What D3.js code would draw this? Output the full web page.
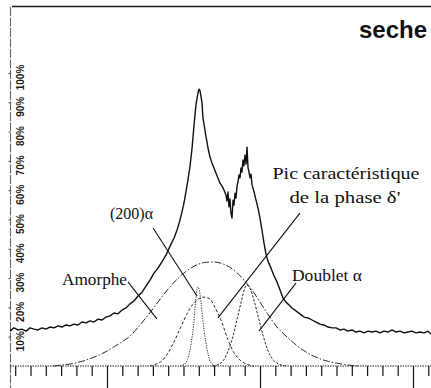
<!DOCTYPE html>
<html>
<head>
<meta charset="utf-8">
<script src="https://cdn.jsdelivr.net/npm/d3@7"></script>
<style>
  html, body { margin: 0; padding: 0; background: #fff; }
  svg { display: block; }
</style>
</head>
<body>
<svg id="chart" width="431" height="388"></svg>
<script>
// Diffractogram (2θ, relative intensity in %) with its fitted components
const twoTheta = [3.66,3.92,4.18,4.44,4.71,4.97,5.23,5.49,5.75,6.01,6.27,6.54,6.80,7.06,7.32,7.58,7.84,8.10,8.37,8.63,8.89,9.15,9.41,9.67,9.93,10.20,10.46,10.72,10.98,11.24,11.50,
  11.76,12.03,12.29,12.55,12.81,13.07,13.33,13.59,13.86,14.12,14.38,
  14.58,14.77,14.90,15.03,15.16,15.29,15.43,15.56,15.69,15.82,15.95,
  16.01,16.08,16.14,16.21,16.27,16.34,16.41,16.47,16.54,16.60,
  16.73,16.86,16.99,17.12,17.25,17.39,17.52,17.65,17.78,
  17.84,17.91,17.97,18.04,18.10,18.17,18.24,18.30,18.37,18.43,18.50,18.56,18.63,18.69,18.76,18.82,18.89,18.95,19.02,19.09,19.15,19.22,19.28,19.35,19.41,19.48,
  19.61,19.74,19.87,20.00,20.13,20.26,20.39,20.52,
  20.72,20.92,21.11,21.31,21.50,21.70,21.90,22.09,
  22.35,22.61,22.88,23.14,23.40,23.66,23.92,24.18,24.44,24.71,24.97,25.23,25.49,25.75,26.01,26.27,26.54,26.80,27.06,27.32,27.58,27.84,28.10,28.37,28.63,28.89,29.15,29.41,29.67,29.93,30.20,30.46,30.72,30.98,
  31.18];
const intensity = [11.9,13.0,12.3,12.6,11.9,13.0,12.6,12.3,13.0,12.6,13.3,13.0,13.7,13.3,14.0,13.7,14.3,14.0,15.0,14.7,15.4,15.0,16.0,15.7,16.7,17.1,18.1,17.8,19.1,19.8,21.2,
  22.2,23.9,25.2,27.3,29.3,31.7,33.4,35.5,37.9,40.9,43.7,
  46.4,49.8,52.6,55.6,59.4,63.5,68.3,74.4,82.3,89.4,93.2,
  94.5,93.9,92.1,89.8,84.6,82.6,80.2,78.2,76.4,74.4,
  71.3,69.3,67.6,65.9,64.2,62.4,61.4,60.0,58.3,
  56.3,59.4,54.3,57.0,52.2,50.5,56.6,54.9,59.0,57.3,61.4,62.8,65.2,64.2,67.6,66.2,70.3,68.3,72.0,68.9,74.7,67.6,66.2,64.2,65.5,61.8,
  59.4,56.6,53.9,50.5,46.4,42.0,38.2,35.8,
  33.4,30.7,28.7,25.9,23.2,21.8,20.8,19.8,
  18.8,17.8,16.7,16.4,15.7,15.0,14.3,14.0,13.3,13.0,13.0,12.3,12.6,11.9,12.3,11.6,11.9,11.3,11.9,11.6,11.9,11.3,11.9,11.6,12.3,11.6,11.9,11.3,11.6,11.9,11.3,11.6,11.3,11.9,
  10.9];

// Fitted components
const amorpheX = [6.5,7.0,7.5,8.0,8.5,9.0,9.5,10.0,10.5,11.0,11.5,12.0,12.5,13.0,13.5,14.0,14.5,15.0,15.5,16.0,16.5,17.0,17.5,18.0,18.5,19.0,19.5,20.0,20.5,21.0,21.5,22.0,22.5,23.0,23.5,24.0,24.5,25.0,25.5,26.0,26.5];
const amorpheY = [0,0.3,0.6,1.1,1.8,2.7,3.8,5.1,6.7,8.3,10.2,13.0,16.2,19.5,23.0,26.3,29.2,31.6,33.5,34.8,35.4,35.5,35.0,33.8,31.8,29.0,25.8,21.8,17.8,14.0,11.2,8.8,6.6,4.8,3.4,2.3,1.5,1.0,0.5,0.2,0];

const alpha200X = [14.8,14.95,15.15,15.35,15.45,15.55,15.65,15.75,15.85,15.95,16.05,16.15,16.25,16.35,16.45,16.55,16.75,16.95,17.1];
const alpha200Y = [0,0.3,1.2,3.6,6.0,9.5,13.5,19.5,25.0,27.0,25.5,21.5,16.5,12.0,8.3,5.5,1.5,0.4,0];

const deltaX = [12.8,13.2,13.6,14.0,14.4,14.8,15.2,15.6,16.0,16.34,16.7,17.1,17.5,17.9,18.3,18.7,19.1,19.6];
const deltaY = [0,0.6,1.8,4.5,8.5,13,17.5,21,23,23.5,23,19.5,15,9.0,4.5,2.0,0.7,0];

const doubletX = [16.9,17.3,17.6,17.9,18.2,18.5,18.8,19.0,19.15,19.35,19.6,19.9,20.2,20.5,20.8,21.1,21.5,21.8];
const doubletY = [0,0.6,1.8,5,9.5,16,22.5,26.5,27.6,26.5,22.5,16.5,10.5,5.5,2.5,1.0,0.2,0];

// Axis ticks
const yTicks = [10,20,30,40,50,60,70,80,90,100];
const xTicks = [4,5,6,7,8,9,10,11,12,13,14,15,16,17,18,19,20,21,22,23,24,25,26,27,28,29,30,31];
const majorTicks = [10,20,30];

// Annotations (data units)
const labels = [
  { text: "Amorphe", u: 7.06, v: 27.6, anchor: "start", len: 65 },
  { text: "(200)\u03b1", u: 10.2, v: 50.2, anchor: "start", len: 43 },
  { text: "Pic caract\u00e9ristique", u: 25.62, v: 63.8, anchor: "middle", len: 147 },
  { text: "de la phase \u03b4'", u: 25.55, v: 55.6, anchor: "middle", len: 111 },
  { text: "Doublet \u03b1", u: 22.09, v: 29.0, anchor: "start", len: 70 }
];
const pointers = [
  [[11.37, 28.7], [13.27, 16.0]],
  [[13.01, 47.1], [15.88, 23.9]],
  [[22.61, 52.2], [17.25, 16.4]],
  [[22.35, 28.3], [19.93, 11.9]]
];

const W = 431, H = 388;
const svg = d3.select("#chart");
const x = d3.scaleLinear().domain([4, 31]).range([15.2, 428.3]);
const y = d3.scaleLinear().domain([0, 100]).range([366, 73]);

// frame: top rule and left axis line
svg.append("line").attr("x1", 12).attr("x2", W).attr("y1", 6.5).attr("y2", 6.5)
  .attr("stroke", "#1a1a1a").attr("stroke-width", 1.4);
svg.append("line").attr("x1", 10.5).attr("x2", 10.5).attr("y1", 7).attr("y2", H)
  .attr("stroke", "#666").attr("stroke-width", 1.1).attr("stroke-dasharray", "9,1.5");

// bottom axis with long ticks every ten
const gx = svg.append("g").attr("transform", `translate(0,${y(0)})`)
  .call(d3.axisBottom(x).tickValues(xTicks).tickSize(10).tickFormat(""));
gx.select(".domain").remove();
gx.selectAll(".tick line")
  .attr("stroke", "#111").attr("stroke-width", 1.2)
  .attr("y2", d => majorTicks.includes(d) ? 22 : 10);
svg.append("line").attr("x1", 10).attr("x2", W).attr("y1", y(0)).attr("y2", y(0))
  .attr("stroke", "#222").attr("stroke-width", 1).attr("stroke-dasharray", "1.5,1");

// left percent scale, labels written upward
const gy = svg.append("g").attr("transform", "translate(10.5,0)")
  .call(d3.axisRight(y).tickValues(yTicks).tickSize(-2).tickPadding(0).tickFormat(d => d + "%"));
gy.select(".domain").remove();
gy.selectAll(".tick line").attr("stroke", "#444");
gy.selectAll(".tick text")
  .attr("x", 0).attr("dy", "0.35em")
  .attr("transform", "translate(9.5,4) rotate(-90)")
  .attr("text-anchor", "middle")
  .attr("fill", "#1a1a1a")
  .style("font-family", "'Liberation Sans', Arial, sans-serif")
  .style("font-size", "10px")
  .style("font-weight", "bold");

// components
const comp = (xs, ys) => xs.map((u, i) => [u, ys[i]]);
const smooth = d3.line().x(d => x(d[0])).y(d => y(d[1])).curve(d3.curveMonotoneX);
const components = [
  { pts: comp(amorpheX, amorpheY), dash: "7,2,1.5,2" },
  { pts: comp(deltaX, deltaY), dash: "3,2" },
  { pts: comp(alpha200X, alpha200Y), dash: "1.2,1.3" },
  { pts: comp(doubletX, doubletY), dash: "2.5,1.5" }
];
svg.append("g").selectAll("path").data(components).join("path")
  .attr("d", d => smooth(d.pts))
  .attr("fill", "none").attr("stroke", "#2a2a2a").attr("stroke-width", 1)
  .attr("stroke-dasharray", d => d.dash);

// measured pattern
const raw = d3.line().x(d => x(d[0])).y(d => y(d[1]));
svg.append("path").datum(comp(twoTheta, intensity))
  .attr("d", raw).attr("fill", "none")
  .attr("stroke", "#111").attr("stroke-width", 1.4).attr("stroke-linejoin", "round");

// pointers and labels
svg.append("g").selectAll("line").data(pointers).join("line")
  .attr("x1", d => x(d[0][0])).attr("y1", d => y(d[0][1]))
  .attr("x2", d => x(d[1][0])).attr("y2", d => y(d[1][1]))
  .attr("stroke", "#111").attr("stroke-width", 1.1);
svg.append("g").selectAll("text").data(labels).join("text")
  .attr("x", d => x(d.u)).attr("y", d => y(d.v))
  .attr("text-anchor", d => d.anchor)
  .attr("textLength", d => d.len).attr("lengthAdjust", "spacingAndGlyphs")
  .style("font-family", "'Liberation Serif', 'Times New Roman', serif")
  .style("font-size", "17.5px").attr("fill", "#111")
  .text(d => d.text);

// sample title
svg.append("text").attr("x", 427).attr("y", 38).attr("text-anchor", "end")
  .style("font-family", "'Liberation Sans', Arial, sans-serif")
  .style("font-size", "24px").style("font-weight", "bold").attr("fill", "#111")
  .text("seche");
</script>
</body>
</html>
